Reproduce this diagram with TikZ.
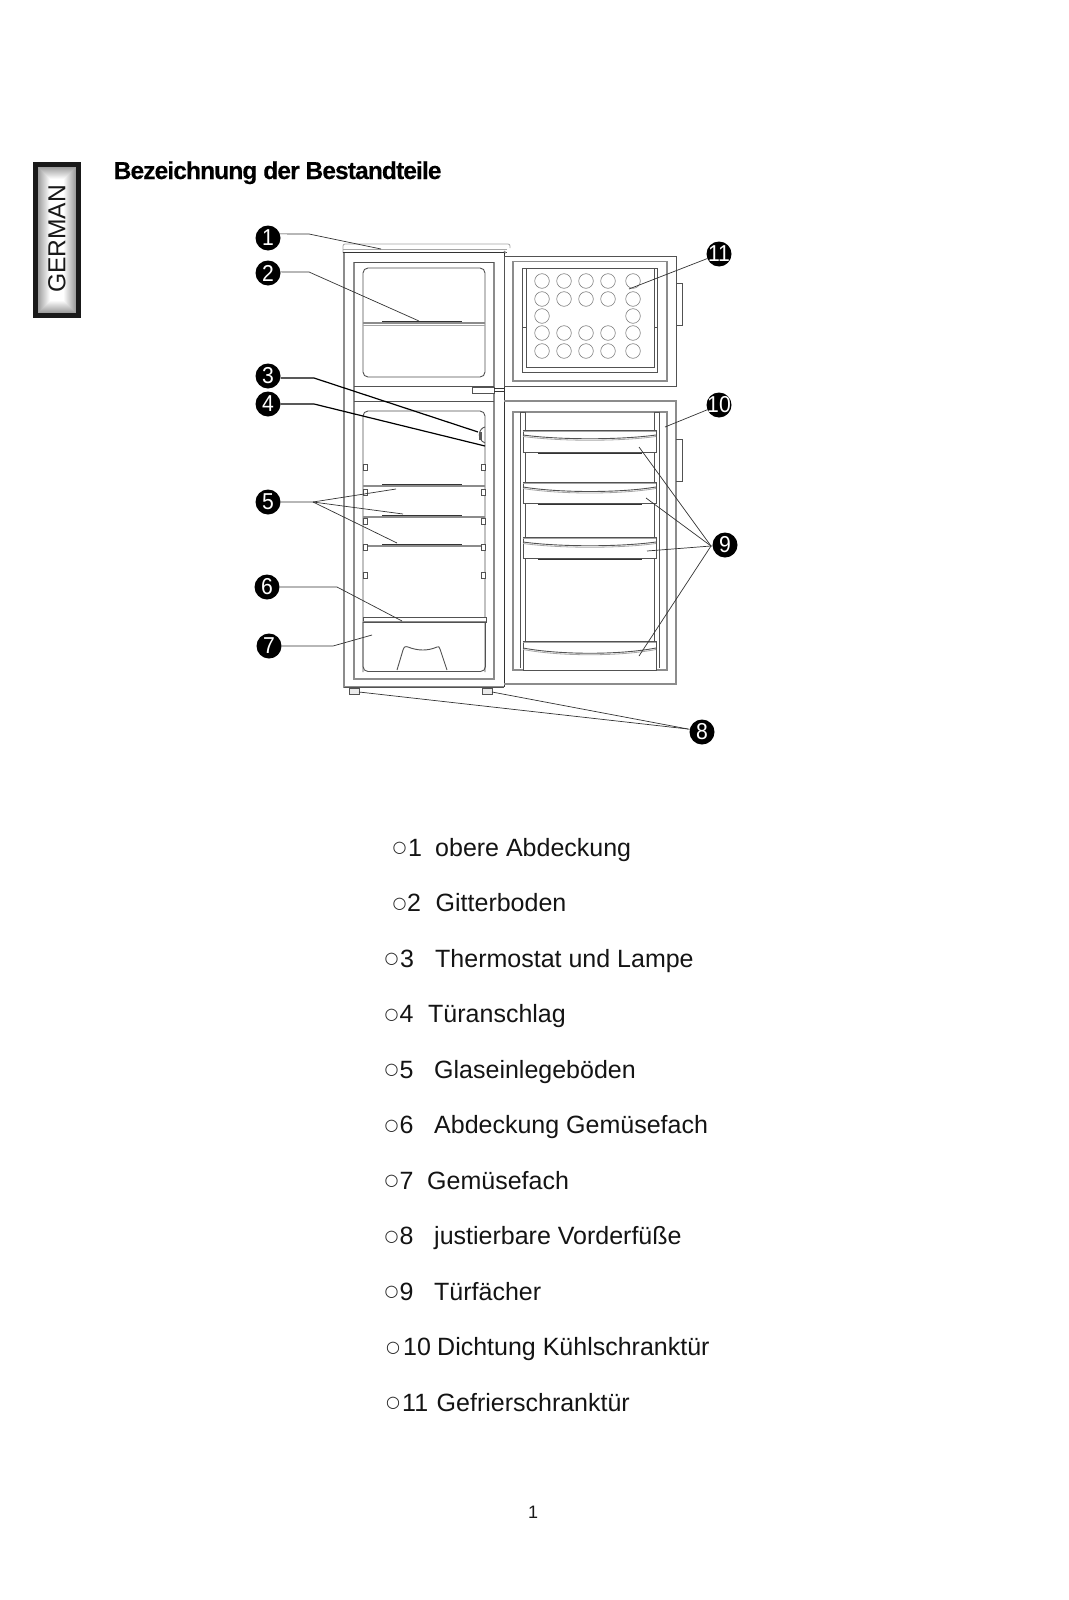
\documentclass[tikz,border=0pt]{standalone}
\usepackage{fontspec}
\setmainfont{Liberation Sans}
\newfontfamily\symfont{DejaVu Sans}
\newfontfamily\titlefont[LetterSpace=-3.6,FakeBold=0.25]{Liberation Sans Bold}
\newcommand{\fsz}[1]{\fontsize{#1}{#1}\selectfont}
\newcommand{\digits}[1]{\makebox[0pt][c]{\scalebox{0.92}[1]{#1}}}
\tikzset{
  ln/.style={draw=black!68,line width=0.9pt},
  ldk/.style={draw=black!80,line width=1pt},
  lgr/.style={draw=black!45,line width=1.3pt},
  llt/.style={draw=black!35,line width=0.8pt},
  lead/.style={draw=black!80,line width=0.7pt},
  leadb/.style={draw=black,line width=1.2pt},
  badge/.style={circle,fill=black,text=white,minimum size=25pt,inner sep=0pt,font=\fsz{23}},
  listtxt/.style={anchor=base west,inner sep=0pt,text=black!92,font=\fsz{25}},
  ringtxt/.style={anchor=base west,inner sep=0pt,text=black!85,font=\symfont\fsz{16}},
  bubble/.style={draw=black!50,line width=0.6pt,fill=white},
}
\newcommand{\partline}[6]{%
  \node[ringtxt] (r#1) at (#2-1,#6-3.2) {○};
  \node[listtxt] (n#1) at (#3,#6) {#1};
  \node[listtxt] (t#1) at (#4,#6) {#5};
}
\newcommand{\peg}[2]{\draw[ln,fill=white] (#1,#2-3) rectangle ++(4,6);}
\newcommand{\doorshelf}[4]{%
  \draw[ln,fill=white] (523,#1) rectangle (656,#2);
  \draw[llt] (523,#1+1.5) -- (656,#1+1.5);
  \draw[ln] (523,#3) .. controls (560,#4+1) and (620,#4+1) .. (656,#3);
  \draw[llt] (523,#3+1.5) .. controls (560,#4+2.5) and (620,#4+2.5) .. (656,#3+1.5);
}
\begin{document}
\begin{tikzpicture}[x=1pt,y=-1pt]
\useasboundingbox (0,0) rectangle (1068,1600);
\fill[white] (0,0) rectangle (1068,1600);

% language tab
\foreach \i in {0,...,12}{
  \pgfmathsetmacro{\g}{62+\i*3.2}
  \fill[fill=white!\g!black] (38+\i,167+\i) rectangle (76-\i,313-\i);
}
\draw[black!90,line width=5pt] (35.5,164.5) rectangle (78.5,315.5);
\node[rotate=90,inner sep=0pt,text=black!90,font=\fsz{24.6}] (tab) at (57,239) {GERMAN};
\node[anchor=base west,inner sep=0pt,font=\titlefont\fsz{24.5}] (title) at (113.5,179) {Bezeichnung der Bestandteile};

% cabinet
\draw[lgr] (344,253) -- (344,687) -- (504,687);
\draw[ldk] (504,253) -- (504,687);
\draw[ln] (344,687) -- (504,687);
\draw[lgr] (354,262) -- (354,679) -- (494,679) -- (494,262);
\draw[ln] (354,262) -- (494,262);
\draw[llt,rounded corners=2pt] (343,253) -- (343,244) -- (510,244) -- (510,248);
\draw[ldk] (343,252.5) -- (507,252.5);
\draw[llt] (343,249) -- (507,249);
\draw[lgr] (504,251) -- (506,253);
% divider band
\draw[ln] (354,386) -- (494,386);
\draw[ln] (354,401) -- (494,401);
\draw[ln,fill=white] (472,387) rectangle (494,393);
\draw[ldk] (494,388) -- (504,388);
\draw[ldk] (494,391) -- (504,391);
% upper compartment
\draw[ln,rounded corners=5pt] (363,268) rectangle (485,377);
\draw[lgr] (363,323) -- (485,323);
\draw[ldk] (382,321) -- (462,321);
\draw[llt] (363,325) -- (485,325);
% lower compartment
\draw[ln] (363,672) -- (363,416) arc[start angle=180,end angle=270,radius=5] -- (480,411) arc[start angle=270,end angle=360,radius=5] -- (485,672);
\draw[lgr] (363,486) -- (485,486);
\draw[ldk] (382,484.5) -- (462,484.5);
\draw[lgr] (363,517) -- (485,517);
\draw[ldk] (382,515) -- (462,515);
\draw[lgr] (363,546) -- (485,546);
\draw[ldk] (382,544) -- (462,544);
\foreach \yy in {467,492,521,547,575}{\peg{363}{\yy}\peg{481}{\yy}}
% thermostat
\draw[ln] (485,427) .. controls (479,428) and (476,439) .. (485,443);
\fill[black!65] (478.5,432) rectangle (482,440);
% crisper
\draw[ln,fill=white] (363,617) rectangle (486,622);
\draw[lgr] (363,621.5) -- (486,621.5);
\draw[ln,rounded corners=5pt] (363,622) -- (363,671.5) -- (485.5,671.5) -- (485.5,622);
\draw[ln] (397,670) -- (403,650) .. controls (404,647) and (405,646) .. (408,647) .. controls (418,651) and (428,651) .. (437,647) .. controls (439,646) and (439,647) .. (440,649) -- (447,670);
% feet
\draw[ln,fill=black!8] (349,688) rectangle (359,694);
\draw[ln,fill=black!8] (482,688) rectangle (492,694);

% freezer door
\draw[ln] (504,256) rectangle (676,386);
\draw[lgr] (513,261.5) rectangle (667,381);
\draw[ln] (522,268) rectangle (657,372);
\draw[ln] (526,268) -- (526,367) -- (654,367) -- (654,268);
\draw[ln] (522,327) -- (526,327);
\draw[ln] (654,327) -- (657,327);
\draw[ln] (676,283) -- (682.5,283) -- (682.5,325) -- (676,325);
\foreach \cx/\cy in {542/281,564/281,586/281,608/281,633/281,
  542/299,564/299,586/299,608/299,633/299,
  542/316,633/316,
  542/333,564/333,586/333,608/333,633/333,
  542/351,564/351,586/351,608/351,633/351}{
  \draw[bubble] (\cx,\cy) circle[radius=7.3];
}
% fridge door
\draw[lgr] (504,401) -- (676,401) -- (676,684) -- (504,684);
\draw[lgr] (513,412) rectangle (667,670);
\draw[ln] (520,412) -- (520,668);
\draw[ln] (525,412) -- (525,668);
\draw[ln] (654,412) -- (654,668);
\draw[ln] (659,412) -- (659,668);
\draw[ln] (520,412) -- (525,412);
\draw[ln] (654,412) -- (659,412);
\draw[ln] (676,439) -- (682.5,439) -- (682.5,481) -- (676,481);
\doorshelf{430}{452}{435}{439}
\draw[ldk] (538,453) -- (642,453);
\doorshelf{482}{503}{487}{492}
\draw[ldk] (538,504) -- (642,504);
\doorshelf{537}{558}{542}{546}
\draw[ldk] (538,559) -- (642,559);
\doorshelf{641}{670}{648}{654}

% badges
\node[badge] (b1) at (268,238) {\digits{1}};
\node[badge] (b2) at (268,273) {\digits{2}};
\node[badge] (b3) at (268,376) {\digits{3}};
\node[badge] (b4) at (268,404) {\digits{4}};
\node[badge] (b5) at (268,502) {\digits{5}};
\node[badge] (b6) at (267,587) {\digits{6}};
\node[badge] (b7) at (269,646) {\digits{7}};
\node[badge] (b8) at (702,732) {\digits{8}};
\node[badge] (b9) at (725,545) {\digits{9}};
\node[badge] (b10) at (719,405) {\digits{10}};
\node[badge] (b11) at (719,254) {\digits{11}};

% leader points
\coordinate (k1) at (309,234);  \coordinate (e1) at (381,249);
\coordinate (k2) at (309,272);  \coordinate (e2) at (419,321);
\coordinate (k3) at (314,378);  \coordinate (e3) at (478,432);
\coordinate (k4) at (314,404);  \coordinate (e4) at (485,446);
\coordinate (k5) at (313,502);
\coordinate (e5a) at (396,489); \coordinate (e5b) at (403,514); \coordinate (e5c) at (397,543);
\coordinate (k6) at (337,587);  \coordinate (e6) at (402,621);
\coordinate (k7) at (333,646);  \coordinate (e7) at (372,635);
\coordinate (k8) at (688,729);
\coordinate (e8a) at (359,692); \coordinate (e8b) at (492,692);
\coordinate (k9) at (711,546);
\coordinate (e9a) at (639,447); \coordinate (e9b) at (646,498); \coordinate (e9c) at (647,551); \coordinate (e9d) at (639,656);
\coordinate (e10) at (665,427);
\coordinate (e11) at (629,289);

% leaders
\draw[lead] (b1.19) -- (k1) -- (e1);
\draw[lead] (b2.5) -- (k2) -- (e2);
\draw[leadb] (b3.-9) -- (k3) -- (e3);
\draw[leadb] (b4) -- (k4) -- (e4);
\draw[lead] (b5) -- (k5) -- (e5a);
\draw[lead] (k5) -- (e5b);
\draw[lead] (k5) -- (e5c);
\draw[lead] (b6) -- (k6) -- (e6);
\draw[lead] (b7) -- (k7) -- (e7);
\draw[lead] (b8) -- (k8) -- (e8a);
\draw[lead] (k8) -- (e8b);
\draw[lead] (b9) -- (k9) -- (e9a);
\draw[lead] (k9) -- (e9b);
\draw[lead] (k9) -- (e9c);
\draw[lead] (k9) -- (e9d);
\draw[lead] (b10) -- (e10);
\draw[lead] (b11) -- (e11);

% parts list
\partline{1}{393.5}{408}{435}{obere Abdeckung}{856}
\partline{2}{393.5}{407}{435.5}{Gitterboden}{911.5}
\partline{3}{385.5}{400}{435}{Thermostat und Lampe}{967}
\partline{4}{385.5}{399.5}{428}{Türanschlag}{1022.5}
\partline{5}{385.5}{399.5}{434}{Glaseinlegeböden}{1078}
\partline{6}{385.5}{399.5}{434}{Abdeckung Gemüsefach}{1133.5}
\partline{7}{385.5}{399.5}{427}{Gemüsefach}{1189}
\partline{8}{385.5}{399.5}{434}{justierbare Vorderfüße}{1244.5}
\partline{9}{385.5}{399.5}{434}{Türfächer}{1300}
\partline{10}{387}{403}{437}{Dichtung Kühlschranktür}{1355.5}
\partline{11}{387}{402}{436.5}{Gefrierschranktür}{1411}
\node[anchor=base,inner sep=0pt,text=black!90,font=\fsz{18}] (page) at (533,1518) {1};
\end{tikzpicture}
\end{document}
